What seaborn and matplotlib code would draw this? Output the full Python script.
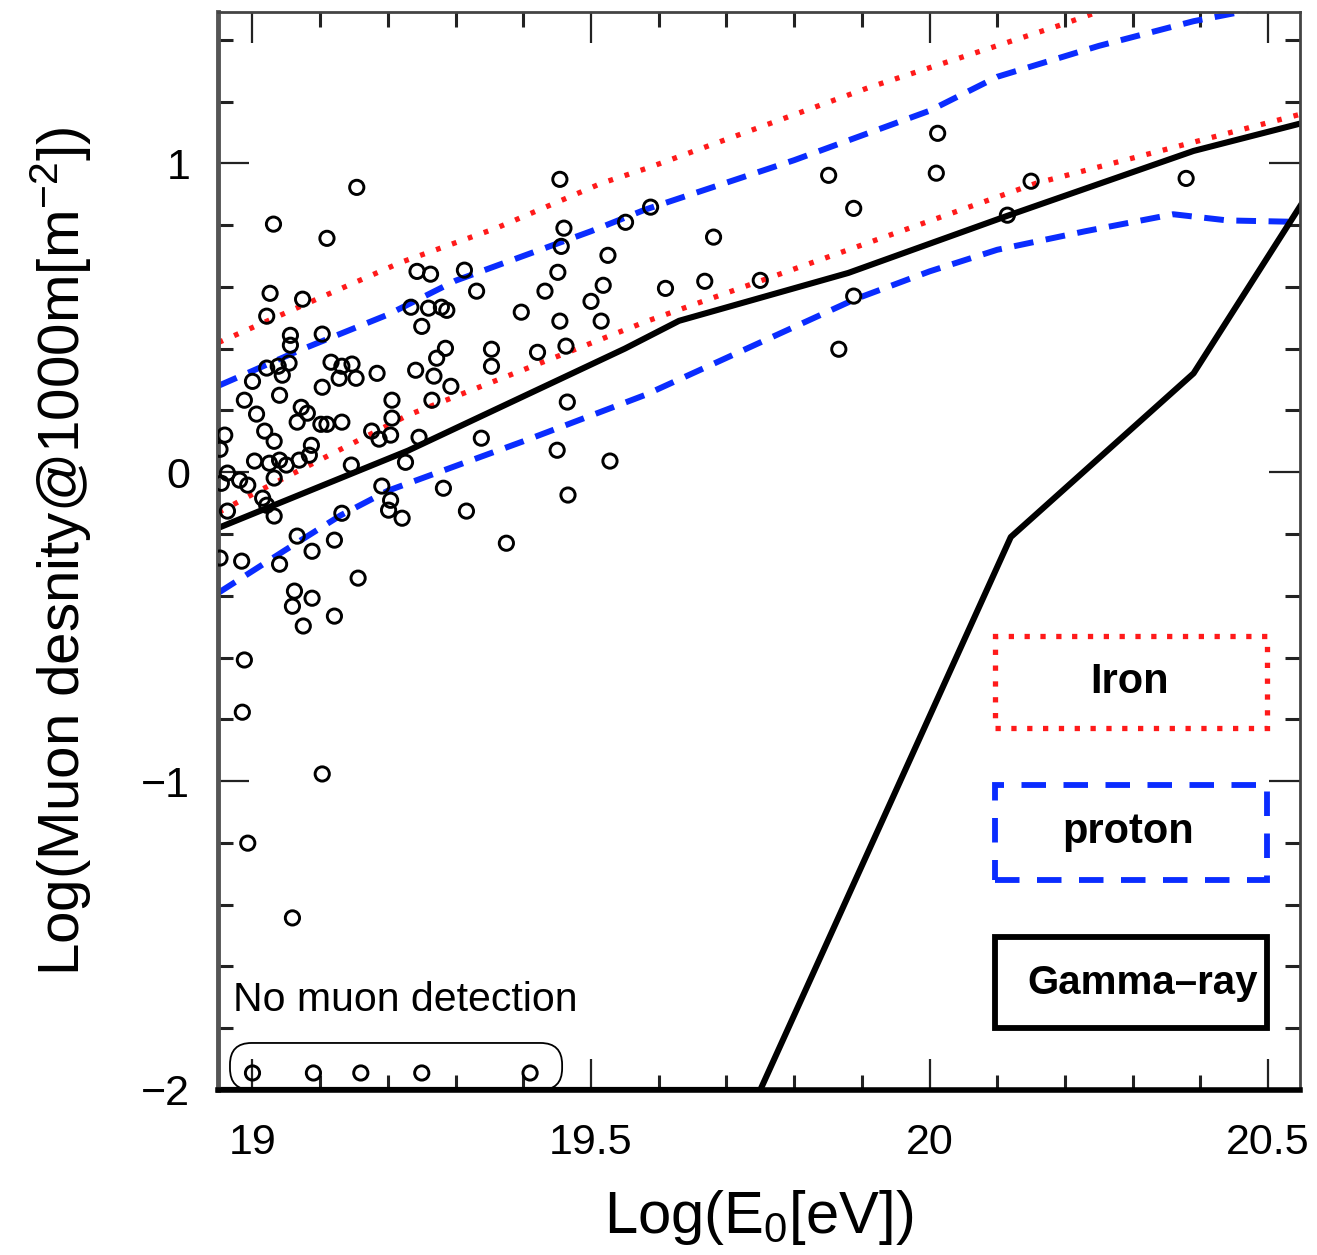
import numpy as np
import pandas as pd
import matplotlib
matplotlib.use("Agg")
import matplotlib.pyplot as plt
import seaborn as sns
from matplotlib.patches import Rectangle, FancyBboxPatch
from matplotlib.ticker import MultipleLocator, FixedLocator

# ---------------- data ----------------
iron_hi_x = [18.95, 19.10, 19.22, 19.36, 19.515, 19.584, 19.91, 20.19, 20.55]
iron_hi_y = [0.42, 0.565, 0.68, 0.79, 0.935, 0.985, 1.245, 1.445, 1.72]
iron_lo_x = [18.95, 19.01, 19.23, 19.584, 20.157, 20.55]
iron_lo_y = [-0.13, -0.06, 0.185, 0.49, 0.935, 1.16]
proton_hi_x = [18.95, 19.07, 19.20, 19.30, 19.50, 19.58, 19.80, 20.00, 20.10, 20.25, 20.39, 20.46, 20.55]
proton_hi_y = [0.28, 0.395, 0.51, 0.62, 0.78, 0.85, 1.01, 1.17, 1.28, 1.38, 1.46, 1.49, 1.54]
proton_lo_x = [18.95, 19.05, 19.13, 19.20, 19.40, 19.58, 19.70, 19.89, 20.00, 20.10, 20.23, 20.36, 20.44, 20.55]
proton_lo_y = [-0.39, -0.25, -0.14, -0.06, 0.10, 0.25, 0.37, 0.56, 0.65, 0.72, 0.78, 0.835, 0.815, 0.81]
mixed_x = [18.95, 19.23, 19.55, 19.63, 19.88, 20.115, 20.39, 20.55]
mixed_y = [-0.18, 0.07, 0.40, 0.49, 0.645, 0.83, 1.04, 1.13]
gamma_x = [18.95, 19.75, 20.12, 20.39, 20.55]
gamma_y = [-2.0, -2.0, -0.21, 0.32, 0.87]

event_x = [19.154, 19.031, 19.110, 19.454, 19.460, 19.456, 19.551, 19.588, 19.525, 19.026,
           19.074, 19.021, 19.243, 19.263, 19.313, 19.331, 19.451, 19.432, 19.518, 19.500,
           19.610, 19.234, 19.260, 19.279, 19.287, 19.250, 19.397, 19.454, 19.515, 19.056,
           19.056, 19.103, 19.285, 19.272, 19.353, 19.353, 19.421, 19.463, 19.021, 19.038,
           19.054, 19.044, 19.000, 19.116, 19.132, 19.147, 19.153, 19.128, 19.184, 19.103,
           19.241, 19.268, 19.293, 19.265, 19.040, 18.988, 19.006, 19.072, 19.081, 19.066,
           19.101, 19.110, 19.132, 19.206, 19.206, 19.018, 19.032, 18.959, 18.952, 19.087,
           19.176, 19.187, 19.204, 19.246, 19.338, 19.465, 19.450, 19.528, 19.226, 19.146,
           19.282, 19.191, 19.466, 18.963, 18.954, 18.981, 18.993, 19.003, 19.025, 19.040,
           19.050, 19.069, 19.084, 19.032, 19.015, 19.021, 19.032, 18.963, 19.066, 19.121,
           19.088, 19.040, 18.984, 18.952, 19.132, 19.204, 19.201, 19.221, 19.375, 19.316,
           19.156, 19.062, 19.059, 19.088, 19.121, 19.075, 18.988, 18.985, 19.103, 18.993,
           19.059, 20.012, 20.010, 19.851, 19.888, 19.681, 20.150, 20.379, 19.668, 19.750,
           20.115, 19.888, 19.866]
event_y = [0.922, 0.803, 0.757, 0.948, 0.790, 0.731, 0.809, 0.858, 0.702, 0.579,
           0.560, 0.505, 0.650, 0.641, 0.654, 0.586, 0.647, 0.586, 0.605, 0.553,
           0.595, 0.534, 0.531, 0.534, 0.524, 0.472, 0.518, 0.489, 0.489, 0.443,
           0.411, 0.447, 0.401, 0.369, 0.398, 0.343, 0.388, 0.408, 0.337, 0.343,
           0.353, 0.314, 0.294, 0.356, 0.343, 0.350, 0.304, 0.304, 0.320, 0.275,
           0.330, 0.311, 0.278, 0.233, 0.249, 0.233, 0.188, 0.210, 0.191, 0.162,
           0.155, 0.155, 0.162, 0.233, 0.175, 0.133, 0.100, 0.120, 0.074, 0.087,
           0.133, 0.107, 0.120, 0.113, 0.110, 0.227, 0.071, 0.036, 0.032, 0.023,
           -0.052, -0.045, -0.074, -0.003, -0.036, -0.026, -0.042, 0.036, 0.029, 0.039,
           0.023, 0.039, 0.055, -0.019, -0.084, -0.107, -0.142, -0.126, -0.207, -0.220,
           -0.256, -0.298, -0.288, -0.278, -0.133, -0.091, -0.123, -0.149, -0.230, -0.126,
           -0.343, -0.385, -0.434, -0.408, -0.466, -0.498, -0.608, -0.777, -0.977, -1.201,
           -1.443, 1.097, 0.968, 0.961, 0.854, 0.761, 0.942, 0.951, 0.618, 0.621,
           0.832, 0.570, 0.398]
nomuon_x = [19.00, 19.09, 19.16, 19.25, 19.41]
nomuon_y = [-1.945, -1.945, -1.945, -1.945, -1.945]

x_ticks = [19, 19.5, 20, 20.5]
x_tick_labels = ["19", "19.5", "20", "20.5"]
y_ticks = [-2, -1, 0, 1]
y_tick_labels = ["\u22122", "\u22121", "0", "1"]

# ---------------- style ----------------
sns.set_theme(style="ticks")
plt.rcParams["font.family"] = ["Liberation Sans", "DejaVu Sans"]
plt.rcParams["mathtext.fontset"] = "custom"
plt.rcParams["mathtext.rm"] = "Liberation Sans"
plt.rcParams["mathtext.it"] = "Liberation Sans:italic"
plt.rcParams["mathtext.bf"] = "Liberation Sans:bold"
plt.rcParams["text.color"] = "black"
plt.rcParams["axes.labelcolor"] = "black"

fig = plt.figure(figsize=(13.17, 12.55), dpi=100)
ax = fig.add_axes([0.1655, 0.1315, 0.8215, 0.859])

RED = "#ff1a1a"
BLUE = "#0a2cff"

def line(xs, ys, **kw):
    df = pd.DataFrame({"x": xs, "y": ys})
    sns.lineplot(data=df, x="x", y="y", ax=ax, sort=False, estimator=None, **kw)

line(iron_hi_x, iron_hi_y, color=RED, lw=3.8, dashes=(0.9, 2.3))
line(iron_lo_x, iron_lo_y, color=RED, lw=3.8, dashes=(0.9, 2.3))
line(proton_hi_x, proton_hi_y, color=BLUE, lw=4.3, dashes=(3.3, 2.1))
line(proton_lo_x, proton_lo_y, color=BLUE, lw=4.3, dashes=(3.3, 2.1))
line(mixed_x, mixed_y, color="black", lw=4.4)
line(gamma_x, gamma_y, color="black", lw=4.4)

ev = pd.DataFrame({"x": event_x + nomuon_x, "y": event_y + nomuon_y})
sns.scatterplot(data=ev, x="x", y="y", ax=ax, marker="o", s=105,
                facecolor="none", edgecolor="black", linewidth=2.1, zorder=5)

ax.set_xlim(18.949, 20.547)
ax.set_ylim(-2.0, 1.49)

ax.xaxis.set_major_locator(FixedLocator(x_ticks))
ax.set_xticklabels(x_tick_labels)
ax.yaxis.set_major_locator(FixedLocator(y_ticks))
ax.set_yticklabels(y_tick_labels)
ax.xaxis.set_minor_locator(MultipleLocator(0.1))
ax.yaxis.set_minor_locator(MultipleLocator(0.2))

ax.tick_params(which="both", direction="in", top=True, right=True, colors="#222222")
ax.tick_params(which="major", length=22, width=1.6, labelsize=31, pad=24, labelcolor="black")
ax.tick_params(axis="y", which="major", pad=20)
ax.tick_params(which="minor", length=11, width=2.2)

for side in ["top", "right"]:
    ax.spines[side].set_color("#444444")
    ax.spines[side].set_linewidth(2.0)
ax.spines["left"].set_color("#555555")
ax.spines["left"].set_linewidth(3.5)
ax.spines["bottom"].set_color("black")
ax.spines["bottom"].set_linewidth(4.0)

ax.set_xlabel(r"Log(E$_0$[eV])", fontsize=43, labelpad=18)
ax.set_ylabel(r"Log(Muon desnity@1000m[m$^{-2}$])", fontsize=42, labelpad=34)

# legend-like boxes
ax.add_patch(Rectangle((0.718, 0.336), 0.252, 0.085, transform=ax.transAxes,
                       fill=False, edgecolor=RED, lw=3.8, linestyle=(0, (1.0, 2.0)), zorder=6))
ax.text(0.843, 0.378, "Iron", transform=ax.transAxes, ha="center", va="center",
        fontsize=30, fontweight="bold", color="black", zorder=7)
ax.add_patch(Rectangle((0.718, 0.195), 0.252, 0.088, transform=ax.transAxes,
                       fill=False, edgecolor=BLUE, lw=4.2, linestyle=(0, (4.2, 3.0)), zorder=6))
ax.text(0.841, 0.239, "proton", transform=ax.transAxes, ha="center", va="center",
        fontsize=30, fontweight="bold", color="black", zorder=7)
ax.add_patch(Rectangle((0.718, 0.0575), 0.252, 0.0845, transform=ax.transAxes,
                       fill=False, edgecolor="black", lw=4.2, zorder=6))
ax.text(0.855, 0.099, "Gamma\u2013ray", transform=ax.transAxes, ha="center", va="center",
        fontsize=29, fontweight="bold", color="black", zorder=7)

# no muon detection annotation
ax.text(0.0139, 0.083, "No muon detection", transform=ax.transAxes, ha="left", va="center",
        fontsize=29.5, color="black", zorder=7)
ax.add_patch(FancyBboxPatch((0.0111, 0.0), 0.307, 0.0436, transform=ax.transAxes,
                            boxstyle="round,pad=0,rounding_size=0.02",
                            fill=False, edgecolor="black", lw=1.3, clip_on=False, zorder=6))

fig.savefig("out.png", dpi=100)
